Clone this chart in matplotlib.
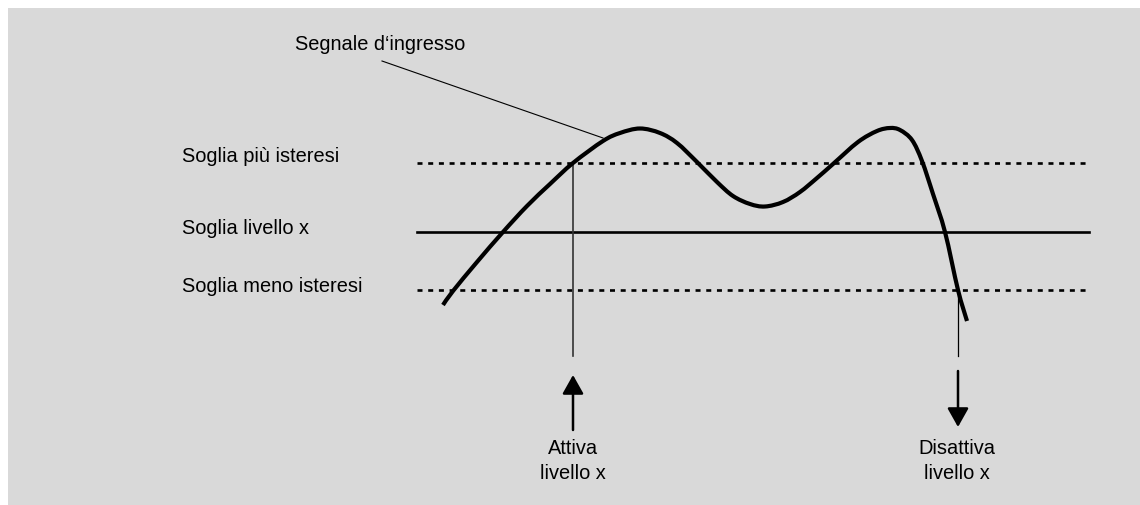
import matplotlib
matplotlib.use('Agg')
import matplotlib.pyplot as plt
from matplotlib.patches import Rectangle, PathPatch
from matplotlib.path import Path

plt.rcParams['font.family'] = ['Liberation Sans', 'DejaVu Sans']

# picture coordinates (pixels, y downwards)
curve_x = [443, 453, 477, 503, 527, 550, 573, 603, 620, 640, 660, 677, 697, 717,
           733, 750, 765, 783, 800, 817, 833, 858, 877, 890, 900, 912, 922, 933, 945, 958, 967]
curve_y = [306, 292, 263, 233, 207, 185, 164, 142, 134, 129.5, 134, 144, 163, 183,
           197, 205, 207.5, 203, 193, 179, 165, 143, 132, 129, 131, 141, 162, 195, 233, 291, 322]

y_upper = 164
y_level = 233
y_lower = 291
line_x = [417, 1089]

threshold_labels = ['Soglia più isteresi', 'Soglia livello x', 'Soglia meno isteresi']
threshold_label_y = [162, 234, 292]

x_on = 573
x_off = 958

fig = plt.figure(figsize=(11.4, 5.06), dpi=100)
ax = fig.add_axes([0, 0, 1, 1])
ax.set_xlim(0, 1140)
ax.set_ylim(506, 0)
ax.axis('off')

ax.add_patch(Rectangle((8, 9), 1140, 506, facecolor='#d9d9d9', edgecolor='none', zorder=0))

dash = (0, (3.6 / 1.9, 4.1 / 1.9))
ax.plot(line_x, [y_upper, y_upper], color='black', lw=1.9, linestyle=dash)
ax.plot(line_x, [y_level, y_level], color='black', lw=1.9)
ax.plot(line_x, [y_lower, y_lower], color='black', lw=1.9, linestyle=dash)

# smooth the signal through the read points with cubic bezier segments
pts = list(zip(curve_x, curve_y))
verts = [pts[0]]
codes = [Path.MOVETO]
n = len(pts)
for i in range(n - 1):
    p0 = pts[max(i - 1, 0)]
    p1 = pts[i]
    p2 = pts[i + 1]
    p3 = pts[min(i + 2, n - 1)]
    c1 = (p1[0] + (p2[0] - p0[0]) / 6, p1[1] + (p2[1] - p0[1]) / 6)
    c2 = (p2[0] - (p3[0] - p1[0]) / 6, p2[1] - (p3[1] - p1[1]) / 6)
    verts += [c1, c2, p2]
    codes += [Path.CURVE4] * 3
ax.add_patch(PathPatch(Path(verts, codes), facecolor='none', edgecolor='black', lw=3,
                       capstyle='butt', joinstyle='round', zorder=5))

for lab, yy in zip(threshold_labels, threshold_label_y):
    ax.text(182, yy, lab, fontsize=14.4, va='baseline', ha='left')

# input signal label + leader line
ax.text(295, 49.5, 'Segnale d‘ingresso', fontsize=14.4, va='baseline', ha='left')
ax.plot([382, 603], [62, 139], color='black', lw=0.8)

# switching markers
ax.plot([x_on, x_on], [y_upper, 357], color='#333333', lw=1.2)
ax.plot([x_off, x_off], [y_lower, 357], color='black', lw=0.9)

arrow = dict(arrowstyle='-|>,head_length=0.8,head_width=0.45', lw=1.8, color='black',
             mutation_scale=14.4, shrinkA=0, shrinkB=0)
ax.annotate('', xy=(x_on, 376), xytext=(x_on, 431), arrowprops=arrow)
ax.annotate('', xy=(x_off, 428), xytext=(x_off, 372), arrowprops=arrow)

ax.text(x_on, 454, 'Attiva', fontsize=14.4, ha='center', va='baseline')
ax.text(x_on, 479.5, 'livello x', fontsize=14.4, ha='center', va='baseline')
ax.text(x_off - 1, 454, 'Disattiva', fontsize=14.4, ha='center', va='baseline')
ax.text(x_off - 1, 479.5, 'livello x', fontsize=14.4, ha='center', va='baseline')

fig.savefig('out.png', dpi=100, facecolor='white')
